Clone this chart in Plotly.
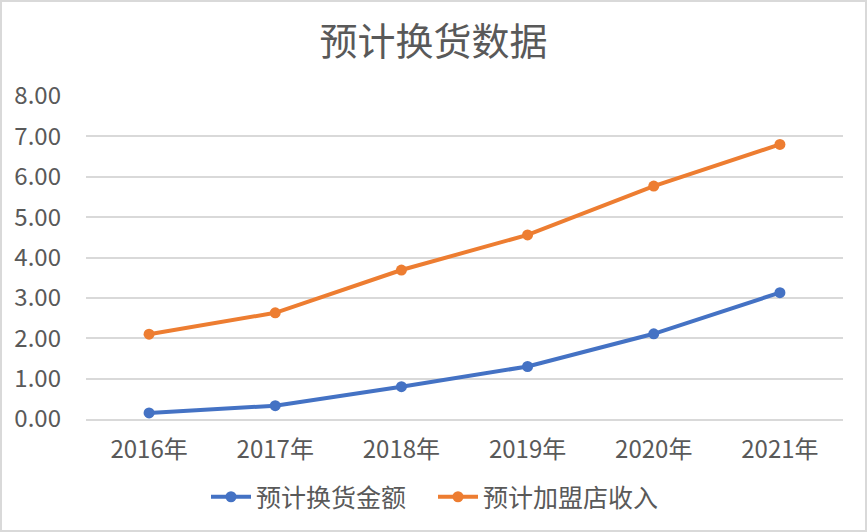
import plotly.graph_objects as go

years = ["2016年", "2017年", "2018年", "2019年", "2020年", "2021年"]
exchange_amount = [0.15, 0.33, 0.80, 1.30, 2.11, 3.13]
franchise_income = [2.10, 2.63, 3.69, 4.56, 5.77, 6.80]
series_names = ["预计换货金额", "预计加盟店收入"]
y_ticks = [0, 1, 2, 3, 4, 5, 6, 7, 8]

FONT = "Noto Sans CJK SC, Microsoft YaHei, sans-serif"
GREY = "#595959"

fig = go.Figure()
fig.add_trace(go.Scatter(
    x=years, y=exchange_amount, name=series_names[0], mode="lines+markers",
    line=dict(color="#4472C4", width=4), marker=dict(size=11, color="#4472C4")))
fig.add_trace(go.Scatter(
    x=years, y=franchise_income, name=series_names[1], mode="lines+markers",
    line=dict(color="#ED7D31", width=4), marker=dict(size=11, color="#ED7D31")))

W, H = 867, 532
ml, mr, mt, mb = 86, 24, 96, 113
pw, ph = W - ml - mr, H - mt - mb

fig.update_layout(
    width=W, height=H,
    margin=dict(l=ml, r=mr, t=mt, b=mb),
    paper_bgcolor="white", plot_bgcolor="white",
    font=dict(family=FONT, color=GREY, size=24),
    title=dict(text="预计换货数据", x=0.5, xanchor="center", y=1 - 42 / H, yanchor="middle",
               font=dict(size=38, color=GREY, family=FONT)),
    showlegend=True,
    legend=dict(orientation="h", x=(433 - ml) / pw, xanchor="center",
                y=-(497 - 419) / ph, yanchor="middle",
                font=dict(size=25, color=GREY), itemwidth=40, traceorder="normal",
                entrywidth=172, entrywidthmode="pixels"),
    xaxis=dict(range=[-0.5, 5.5], showgrid=False, showline=True, linecolor="#D9D9D9",
               linewidth=1.5, ticks="", tickfont=dict(size=24, color=GREY),
               ticklabelstandoff=8, fixedrange=True),
    yaxis=dict(range=[0, 8], tickvals=y_ticks, tickformat=".2f", showgrid=True,
               gridcolor="#D9D9D9", gridwidth=1.5, zeroline=False, showline=False,
               tickfont=dict(size=24, color=GREY), ticklabelstandoff=24, fixedrange=True),
    shapes=[dict(type="rect", xref="paper", yref="paper",
                 x0=-ml / pw + 1 / pw, x1=1 + (mr - 1) / pw,
                 y0=-mb / ph + 1 / ph, y1=1 + (mt - 1) / ph,
                 line=dict(color="#D9D9D9", width=2), layer="below")],
)

fig.write_html("out.html", config={"displayModeBar": False},
               post_script="document.body.style.margin='0';")
